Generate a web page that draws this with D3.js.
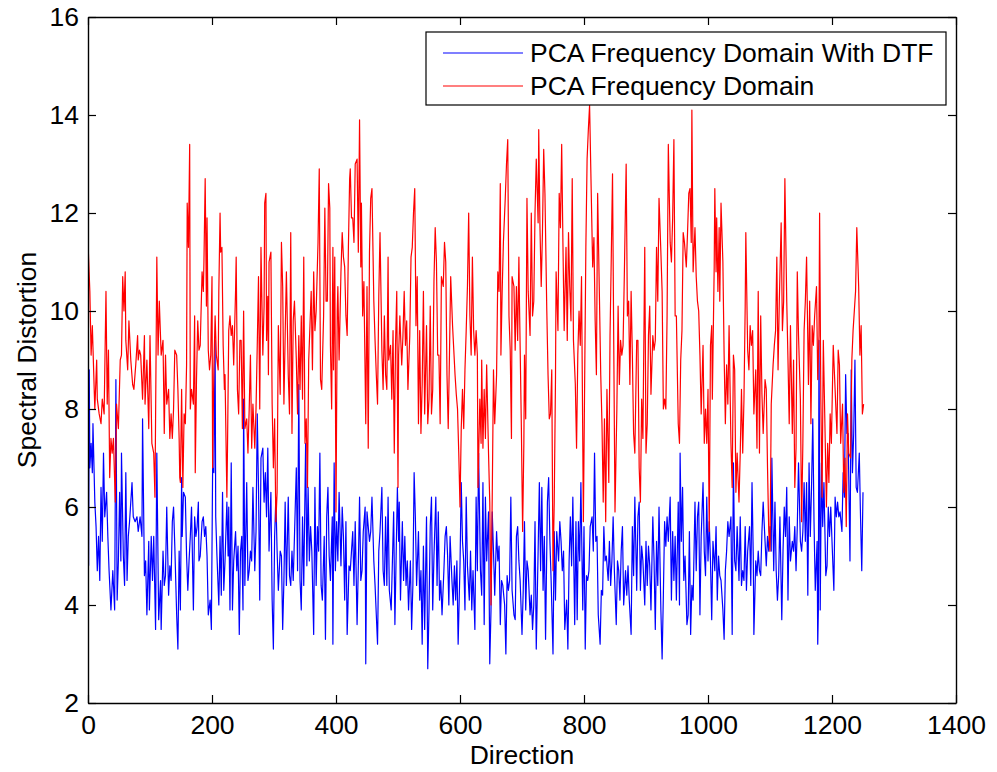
<!DOCTYPE html>
<html>
<head>
<meta charset="utf-8">
<script src="https://cdn.jsdelivr.net/npm/d3@7"></script>
<style>
  html, body { margin: 0; padding: 0; background: #fff; }
  svg { display: block; font-family: "Liberation Sans", Arial, Helvetica, sans-serif; }
</style>
</head>
<body>
<div id="chart"></div>
<script>
// values: [direction, spectral distortion]
const dtfPoints = [
  [1,4.8],[2,8.8],[3,6.8],[5,7.3],[7,6.7],[8,7.7],[11,6.1],[13,5.6],[15,4.7],[17,5.4],[19,4.5],[21,6.4],[23,5.3],[25,7.1],[27,5.8],[30,6.3],[32,5.4],[34,4.7],[37,3.9],[40,4.7],[43,3.9],[45,8.6],[47,4.1],[49,4.9],[51,6.3],[53,4.9],[54,7.1],[57,5.0],[59,4.4],[61,6.7],[63,4.5],[65,5.4],[67,5.7],[71,6.5],[73,5.8],[76,5.7],[79,5.8],[81,5.5],[84,5.8],[87,5.4],[88,7.8],[91,4.6],[93,4.9],[95,3.8],[98,5.3],[99,3.9],[102,5.4],[104,4.5],[106,5.4],[109,3.5],[111,7.1],[114,3.7],[117,4.5],[118,3.5],[121,5.1],
  [123,4.4],[125,4.6],[127,6.0],[130,4.2],[132,4.8],[134,4.5],[136,5.7],[138,6.0],[140,5.2],[143,3.8],[145,3.1],[147,5.1],[149,3.9],[151,6.6],[152,5.4],[154,6.3],[157,6.2],[159,5.0],[161,4.3],[163,4.9],[165,5.4],[167,6.0],[170,3.9],[172,5.8],[174,5.4],[176,5.6],[178,6.1],[179,4.9],[181,5.0],[184,5.7],[186,5.8],[188,5.4],[190,5.6],[192,5.0],[194,3.8],[197,4.1],[199,3.5],[201,6.8],[203,6.7],[205,9.4],[206,5.8],[208,5.0],[211,4.0],[213,5.4],[215,4.2],[217,6.3],[219,4.3],[221,4.9],[224,6.1],[226,5.0],[227,6.0],[229,3.9],[231,6.9],[233,3.9],[235,4.9],[238,5.5],[240,4.7],[242,5.2],[244,3.4],[246,5.1],
  [248,5.4],[250,3.9],[251,8.2],[253,4.4],[256,6.5],[258,4.5],[260,4.7],[262,5.1],[264,4.9],[266,6.4],[269,4.7],[271,5.5],[273,7.9],[275,6.4],[277,4.1],[279,7.0],[282,7.2],[284,6.1],[286,6.7],[288,5.8],[290,7.2],[292,5.1],[295,6.3],[297,4.1],[299,3.1],[301,5.4],[303,6.2],[305,5.1],[307,4.3],[310,5.1],[312,5.0],[314,3.5],[316,4.5],[318,6.1],[320,4.4],[323,6.2],[325,4.6],[327,4.4],[329,5.1],[331,4.5],[333,5.4],[336,6.8],[338,4.7],[340,8.5],[342,4.5],[344,3.9],[346,5.8],[348,4.4],[351,7.3],[353,4.8],[355,6.4],[357,4.9],[359,5.6],[361,5.1],[364,3.4],[366,6.4],[368,4.4],[370,5.6],
  [372,5.1],[374,7.1],[376,4.4],[378,4.1],[381,5.4],[383,3.3],[385,5.8],[387,6.4],[389,5.0],[391,4.5],[394,5.8],[395,3.2],[397,6.9],[399,4.7],[401,5.7],[403,4.9],[405,6.3],[408,4.8],[410,6.0],[412,5.4],[414,4.1],[416,5.7],[418,3.4],[421,4.8],[423,4.7],[425,5.1],[427,5.5],[429,4.4],[431,5.7],[434,3.6],[436,4.8],[438,6.2],[440,4.5],[442,4.7],[444,5.5],[447,6.0],[448,2.8],[450,5.9],[452,5.6],[454,5.3],[456,5.5],[458,6.2],[461,4.9],[463,4.4],[465,3.8],[467,3.2],[469,5.1],[471,5.5],[474,6.4],[476,4.7],[478,4.4],[480,5.8],[482,4.4],[484,6.2],[486,4.3],[489,3.9],[491,4.9],[493,5.9],[495,3.6],[497,5.0],
  [499,6.4],[501,5.3],[502,6.1],[504,4.1],[507,5.7],[509,4.5],[511,5.4],[513,4.4],[515,4.9],[517,3.9],[520,4.9],[522,3.5],[524,4.4],[526,6.7],[528,5.8],[530,4.4],[533,5.5],[535,4.1],[537,4.7],[539,3.2],[541,5.2],[543,3.5],[546,5.8],[548,2.7],[550,3.9],[552,5.6],[554,6.2],[556,3.9],[558,5.0],[561,6.2],[563,4.4],[565,5.9],[567,4.1],[569,4.5],[571,3.8],[574,4.7],[576,5.4],[578,5.6],[580,5.0],[582,4.0],[584,5.4],[587,4.5],[589,4.0],[591,4.8],[593,4.1],[595,4.9],[597,3.2],[600,4.8],[602,6.5],[604,5.3],[606,4.9],[608,3.9],[610,6.2],[612,4.8],[615,4.1],[617,5.1],[619,3.9],[621,4.7],
  [624,3.5],[626,6.2],[628,4.7],[630,7.1],[633,4.7],[635,4.2],[637,6.5],[639,3.6],[641,6.2],[643,4.9],[646,5.9],[648,2.8],[650,3.9],[652,5.9],[654,5.1],[656,4.2],[659,5.5],[661,4.9],[663,5.2],[665,3.6],[667,4.5],[669,4.4],[672,4.0],[674,3.0],[676,4.6],[678,4.3],[680,4.5],[682,6.2],[684,4.3],[687,3.8],[689,3.7],[691,5.4],[693,5.6],[695,4.9],[697,4.5],[700,3.4],[702,4.3],[704,5.7],[706,3.9],[708,4.9],[710,4.7],[713,3.8],[715,4.2],[717,3.5],[719,4.0],[721,5.7],[723,3.1],[726,5.1],[728,6.5],[730,4.7],[732,6.4],[734,4.3],[736,5.4],[738,3.3],[741,6.1],[743,6.6],[745,5.3],[747,4.5],
  [750,3.0],[752,5.5],[754,4.1],[756,5.5],[759,4.9],[761,5.7],[763,5.3],[765,4.7],[767,5.1],[769,3.5],[772,4.1],[774,3.1],[776,4.9],[778,5.8],[780,4.8],[782,6.2],[785,3.6],[787,5.7],[789,3.7],[791,5.7],[793,4.9],[795,6.5],[798,3.9],[800,5.6],[802,3.1],[804,4.6],[806,4.5],[808,4.7],[810,5.6],[813,5.8],[815,5.1],[817,7.1],[819,5.3],[821,5.4],[823,3.8],[826,3.2],[828,4.3],[830,4.2],[832,5.6],[834,4.9],[836,5.0],[839,4.5],[841,5.3],[843,4.4],[845,4.9],[847,5.8],[849,4.7],[852,3.6],[854,4.9],[856,4.7],[858,4.1],[860,5.1],[862,5.6],[864,4.0],[867,4.7],[869,4.2],[871,4.8],[873,4.1],
  [876,3.4],[878,5.6],[880,4.6],[882,6.2],[885,4.3],[887,5.8],[889,6.1],[891,4.3],[893,5.2],[895,4.9],[898,4.0],[900,5.3],[902,4.4],[904,5.2],[906,4.8],[908,3.9],[911,5.8],[913,4.9],[915,3.5],[917,5.3],[919,4.4],[921,6.0],[924,3.9],[926,2.9],[928,4.2],[930,5.7],[932,5.2],[934,5.8],[936,5.3],[939,6.2],[941,4.1],[943,5.5],[945,4.5],[947,5.4],[949,4.1],[952,6.1],[954,4.0],[955,7.1],[957,5.3],[959,6.4],[961,4.5],[963,5.0],[966,3.6],[968,3.8],[970,5.5],[972,3.4],[974,4.4],[976,4.1],[979,6.1],[981,4.7],[983,5.8],[985,6.1],[987,3.8],[989,5.4],[992,6.5],[994,5.1],[996,4.6],[998,6.2],[1000,4.9],
  [1002,5.7],[1004,4.9],[1006,3.7],[1008,5.3],[1011,4.7],[1013,5.6],[1015,4.1],[1017,5.0],[1019,4.6],[1021,4.5],[1024,3.9],[1026,3.3],[1028,4.7],[1030,5.1],[1032,5.7],[1034,5.4],[1037,5.8],[1039,3.4],[1041,6.9],[1043,4.9],[1045,4.7],[1047,5.6],[1050,4.5],[1052,5.8],[1054,4.4],[1056,4.7],[1058,4.5],[1060,5.6],[1062,4.3],[1064,5.1],[1067,5.6],[1069,4.4],[1071,6.5],[1073,5.0],[1074,3.4],[1077,4.9],[1079,4.6],[1081,5.1],[1083,4.7],[1085,4.6],[1087,5.5],[1089,6.1],[1092,5.3],[1094,4.8],[1096,5.4],[1098,5.1],[1100,5.6],[1102,5.1],[1103,7.0],[1106,4.7],[1108,6.1],[1110,4.7],[1112,4.1],[1114,4.6],[1116,5.8],[1119,3.7],[1121,5.1],[1123,6.0],[1125,5.4],
  [1127,6.4],[1129,4.1],[1131,5.8],[1133,4.9],[1136,5.3],[1138,5.1],[1140,5.6],[1142,4.7],[1144,5.6],[1146,6.9],[1149,5.3],[1151,5.1],[1153,5.5],[1155,6.5],[1157,5.3],[1159,6.5],[1161,4.2],[1163,6.9],[1165,5.4],[1167,6.4],[1169,7.8],[1171,5.7],[1173,4.3],[1176,5.3],[1177,3.2],[1178,3.9],[1179,9.4],[1181,3.9],[1183,6.9],[1185,5.6],[1187,6.5],[1190,4.6],[1192,4.8],[1194,6.0],[1196,5.4],[1198,6.0],[1200,5.3],[1203,4.3],[1205,6.2],[1207,5.8],[1209,6.1],[1211,5.8],[1213,5.9],[1216,5.5],[1218,6.7],[1220,6.2],[1222,8.7],[1224,7.5],[1226,7.5],[1229,4.9],[1231,8.8],[1233,6.7],[1235,7.5],[1237,9.0],[1239,6.4],[1241,6.3],[1244,7.1],[1246,5.8],[1248,4.7],[1250,6.3]
];

const pcaPoints = [
  [0,11.4],[3,10.4],[5,9.1],[7,9.7],[10,8.4],[11,8.0],[14,9.0],[15,8.2],[18,7.9],[21,7.7],[23,8.2],[26,7.9],[29,10.4],[31,8.1],[33,9.2],[35,6.6],[37,7.4],[39,7.1],[41,7.4],[44,6.1],[46,8.1],[49,7.6],[52,9.0],[54,9.1],[56,10.7],[58,10.0],[60,10.8],[61,9.4],[64,8.8],[66,9.8],[69,9.0],[72,8.5],[74,8.4],[77,8.9],[80,9.5],[81,9.0],[83,9.2],[85,9.1],[88,8.2],[91,9.5],[92,8.1],[95,9.0],[98,7.6],[100,9.5],[103,7.3],[106,7.1],[108,6.2],[111,11.1],[113,9.1],[115,10.2],[118,9.1],[121,9.4],
  [123,7.5],[125,9.1],[127,8.1],[130,8.4],[132,7.4],[134,7.9],[136,7.4],[138,8.0],[140,9.2],[143,9.1],[145,8.4],[147,7.4],[148,6.6],[149,6.5],[151,8.4],[153,6.4],[155,7.9],[157,7.7],[159,8.9],[160,12.2],[162,11.3],[164,13.4],[165,8.0],[167,8.4],[170,8.1],[172,9.9],[173,6.7],[175,8.6],[177,9.8],[179,9.2],[181,9.3],[184,10.8],[186,10.4],[187,11.0],[189,12.7],[191,10.1],[192,11.9],[194,9.2],[196,8.8],[198,9.1],[200,10.7],[201,6.8],[203,8.8],[205,9.9],[207,9.1],[210,8.8],[211,10.4],[213,12.0],[214,11.2],[216,11.3],[218,9.3],[220,8.4],[221,8.7],[224,6.2],[225,7.2],[227,9.6],[229,9.9],[231,9.5],[233,9.7],[235,8.9],[238,10.4],[239,11.1],[241,8.4],[243,7.9],[245,9.4],
  [247,9.4],[249,7.6],[251,10.0],[253,7.6],[256,7.8],[258,7.1],[260,8.0],[262,9.1],[264,7.2],[266,8.1],[269,7.2],[271,8.0],[273,9.3],[275,10.7],[277,8.0],[279,11.3],[282,9.1],[284,10.1],[285,12.2],[287,12.4],[288,9.4],[290,10.3],[291,8.7],[292,11.0],[295,11.2],[297,8.1],[299,6.8],[301,7.8],[303,5.7],[305,6.3],[307,9.7],[310,8.3],[312,11.4],[314,10.5],[316,8.1],[318,9.5],[320,10.8],[323,8.7],[325,7.9],[327,11.6],[329,7.5],[331,9.8],[333,10.2],[336,9.0],[338,7.9],[340,9.5],[342,8.4],[344,9.9],[346,8.2],[348,11.1],[350,7.3],[352,7.8],[354,6.4],[356,9.0],[358,9.7],[360,10.4],[362,8.8],[364,10.8],[366,9.6],[368,10.0],[371,11.4],
  [373,12.9],[375,8.6],[377,8.4],[380,9.9],[382,12.1],[384,10.2],[386,10.2],[388,12.6],[390,12.1],[391,9.3],[393,8.0],[395,11.3],[396,8.8],[398,11.1],[400,5.9],[402,10.0],[403,10.5],[405,9.0],[408,10.8],[410,11.6],[412,11.1],[414,10.9],[416,9.9],[418,9.5],[420,11.3],[422,12.7],[423,12.9],[425,11.9],[427,11.9],[429,11.4],[431,13.0],[434,13.1],[436,11.2],[438,13.9],[440,10.9],[441,12.2],[443,9.9],[445,10.6],[448,7.7],[450,10.5],[452,7.2],[454,11.2],[456,12.3],[458,12.5],[461,10.2],[463,9.4],[465,8.7],[467,8.1],[469,10.3],[471,11.6],[474,9.2],[476,8.4],[478,9.9],[480,8.7],[482,8.4],[484,11.1],[485,9.0],[488,9.3],[490,8.2],[492,9.6],[494,7.1],[496,9.3],
  [498,10.4],[500,6.4],[501,9.1],[503,9.9],[506,8.9],[508,9.5],[510,10.4],[512,9.3],[514,9.8],[516,8.4],[519,9.5],[521,11.1],[523,11.3],[525,12.0],[527,12.5],[529,9.7],[531,10.7],[533,7.7],[535,9.6],[537,7.5],[539,8.5],[541,10.4],[543,7.9],[546,9.7],[548,7.7],[550,8.2],[552,10.1],[554,7.9],[556,8.4],[558,10.6],[560,11.7],[562,11.0],[564,9.1],[566,9.1],[568,7.7],[570,10.7],[573,10.5],[575,11.4],[577,11.0],[579,8.7],[581,7.6],[583,9.1],[585,10.7],[588,9.7],[590,9.2],[592,8.7],[594,8.3],[596,8.0],[598,7.1],[600,6.0],[602,7.6],[604,8.4],[606,7.6],[608,8.8],[610,9.6],[612,10.5],[614,12.0],[616,9.9],[618,9.1],[620,11.1],[622,9.6],
  [624,9.1],[626,9.6],[628,9.1],[629,6.4],[632,8.2],[634,7.3],[635,9.0],[637,7.2],[639,8.4],[641,7.4],[643,8.9],[646,7.1],[648,6.1],[650,4.0],[652,6.2],[654,8.8],[656,7.7],[659,8.7],[661,10.8],[663,10.4],[665,12.6],[666,9.1],[668,10.4],[670,11.4],[673,12.3],[675,13.0],[677,13.5],[679,9.9],[681,9.2],[683,7.4],[684,10.7],[687,10.5],[689,9.2],[691,10.5],[693,9.4],[695,11.1],[696,10.1],[699,7.6],[701,5.5],[703,7.3],[704,9.1],[706,7.8],[708,12.3],[710,10.4],[713,9.5],[715,12.0],[717,9.9],[719,10.2],[721,12.0],[723,13.1],[726,11.8],[727,13.7],[729,11.7],[731,10.5],[733,11.6],[735,13.3],[737,12.4],[740,10.0],[742,8.7],[744,7.8],[746,7.9],[748,8.8],
  [750,4.7],[752,6.1],[754,8.6],[755,10.8],[758,9.6],[760,12.4],[762,11.7],[764,13.4],[766,11.4],[768,9.6],[771,11.3],[773,9.4],[775,11.6],[777,10.5],[779,9.8],[781,12.7],[783,9.4],[786,8.5],[788,7.2],[790,9.1],[792,10.0],[794,9.3],[796,10.7],[799,5.7],[801,8.5],[803,11.3],[805,13.1],[807,13.7],[809,14.2],[812,12.2],[814,10.9],[816,11.5],[818,9.8],[820,8.7],[822,12.4],[825,10.2],[827,8.7],[829,7.7],[831,6.1],[833,7.8],[835,5.7],[837,8.4],[840,6.5],[842,9.5],[844,11.1],[846,12.8],[848,9.3],[850,5.9],[853,8.0],[855,10.1],[857,8.5],[859,9.4],[861,9.1],[863,9.3],[865,10.7],[868,13.0],[870,9.9],[872,10.2],[874,8.5],
  [876,10.4],[878,9.1],[880,7.5],[882,7.1],[885,9.4],[887,9.4],[889,6.8],[891,6.1],[893,8.2],[895,7.4],[898,11.3],[900,7.1],[902,7.7],[904,9.5],[906,10.1],[908,8.3],[911,9.5],[913,9.2],[915,9.4],[917,11.3],[919,10.2],[921,12.3],[924,11.2],[926,10.4],[928,8.0],[930,8.2],[932,8.0],[934,9.9],[936,13.4],[939,11.4],[941,11.0],[943,11.9],[945,13.5],[947,9.9],[949,9.9],[952,7.7],[954,7.3],[956,9.0],[958,9.6],[960,11.6],[962,11.4],[965,10.9],[967,11.6],[969,12.4],[971,12.5],[973,11.4],[974,14.1],[976,10.8],[979,11.7],[981,10.7],[983,10.2],[985,10.0],[987,9.1],[989,7.9],[992,9.3],[994,7.3],[996,8.0],[998,7.3],[1000,8.4],
  [1002,5.5],[1004,9.3],[1006,9.7],[1007,8.2],[1010,10.9],[1011,12.5],[1013,10.8],[1014,11.9],[1016,10.4],[1018,11.7],[1019,10.2],[1021,12.2],[1024,11.0],[1026,9.1],[1028,7.7],[1030,8.9],[1032,8.1],[1034,9.7],[1037,7.3],[1039,6.4],[1041,9.1],[1043,8.8],[1045,6.3],[1047,7.1],[1050,6.1],[1052,7.1],[1054,8.4],[1056,7.1],[1058,8.2],[1060,10.1],[1061,11.6],[1064,9.2],[1066,8.8],[1068,9.7],[1070,9.3],[1072,9.6],[1074,7.9],[1077,8.8],[1079,7.2],[1081,10.4],[1083,7.1],[1085,9.9],[1087,8.3],[1089,7.5],[1092,8.6],[1094,8.4],[1096,6.8],[1098,5.5],[1100,5.1],[1102,8.1],[1105,8.9],[1107,9.3],[1109,9.6],[1111,11.1],[1113,8.8],[1115,10.2],[1118,11.8],[1120,9.6],[1122,10.2],[1124,12.7],
  [1127,10.2],[1129,9.0],[1131,7.7],[1133,9.7],[1136,7.5],[1138,9.0],[1140,6.4],[1142,7.2],[1144,10.8],[1146,9.5],[1149,8.2],[1151,5.7],[1153,7.3],[1155,9.6],[1157,10.2],[1159,11.1],[1162,8.5],[1164,10.2],[1166,7.7],[1168,9.7],[1170,9.3],[1172,9.9],[1175,10.5],[1177,8.6],[1179,9.5],[1180,12.0],[1182,8.2],[1184,6.2],[1186,9.4],[1189,7.4],[1191,6.0],[1193,7.3],[1195,6.5],[1197,7.9],[1199,7.3],[1202,9.3],[1204,8.7],[1206,8.1],[1208,7.5],[1210,9.2],[1212,8.9],[1214,7.3],[1217,8.1],[1219,6.3],[1221,7.0],[1223,5.6],[1225,7.9],[1227,7.1],[1230,7.0],[1232,9.0],[1234,9.6],[1236,10.0],[1238,10.4],[1240,11.7],[1243,10.5],[1245,9.1],[1247,9.7],[1249,7.9],[1251,8.1]
];

const seriesNames = ["PCA Frequency Domain With DTF", "PCA Frequency Domain"];
const seriesColors = ["#0000ff", "#ff0000"];
const xTicks = [0, 200, 400, 600, 800, 1000, 1200, 1400];
const yTicks = [2, 4, 6, 8, 10, 12, 14, 16];

// figure size and axes box (in page pixels)
const W = 997, H = 772;
const margin = {top: 17, right: 41, bottom: 69, left: 88},
    width = W - margin.left - margin.right,
    height = H - margin.top - margin.bottom;

const svg = d3.select("#chart")
    .append("svg")
    .attr("width", W)
    .attr("height", H);

svg.append("rect").attr("width", W).attr("height", H).attr("fill", "#fff");

const g = svg.append("g")
    .attr("transform", `translate(${margin.left},${margin.top})`);

const x = d3.scaleLinear().domain([0, 1400]).range([0, width]);
const y = d3.scaleLinear().domain([2, 16]).range([height, 0]);

// clip lines to the axes box
svg.append("defs").append("clipPath").attr("id", "box")
    .append("rect").attr("width", width).attr("height", height);

const line = d3.line()
    .x(d => x(d[0]))
    .y(d => y(d[1]));

const plot = g.append("g").attr("clip-path", "url(#box)");

// blue drawn first, red on top
[dtfPoints, pcaPoints].forEach((pts, i) => {
  plot.append("path")
      .datum(pts)
      .attr("fill", "none")
      .attr("stroke", seriesColors[i])
      .attr("stroke-width", 1.2)
      .attr("stroke-linejoin", "round")
      .attr("d", line);
});

// axes, matlab style: ticks pointing inward on all four sides
const fontSize = 26.5;
const tick = 8;
const fmt = d3.format("d");

const xAxis = g.append("g")
    .attr("transform", `translate(0,${height})`)
    .call(d3.axisBottom(x).tickValues(xTicks).tickFormat(fmt).tickSizeInner(-tick).tickSizeOuter(0).tickPadding(12));

const xAxisTop = g.append("g")
    .call(d3.axisTop(x).tickValues(xTicks).tickSizeInner(-tick).tickSizeOuter(0).tickFormat(""));

const yAxis = g.append("g")
    .call(d3.axisLeft(y).tickValues(yTicks).tickFormat(fmt).tickSizeInner(-tick).tickSizeOuter(0).tickPadding(9));

const yAxisRight = g.append("g")
    .attr("transform", `translate(${width},0)`)
    .call(d3.axisRight(y).tickValues(yTicks).tickSizeInner(-tick).tickSizeOuter(0).tickFormat(""));

[xAxis, xAxisTop, yAxis, yAxisRight].forEach(a => {
  a.select(".domain").attr("stroke", "#000").attr("stroke-width", 1.4);
  a.selectAll(".tick line").attr("stroke", "#000").attr("stroke-width", 1.2);
  a.selectAll("text")
      .attr("fill", "#000")
      .style("font-size", fontSize + "px")
      .style("font-family", "'Liberation Sans', Arial, sans-serif");
});

// axis labels
svg.append("text")
    .attr("x", margin.left + width / 2)
    .attr("y", 764)
    .attr("text-anchor", "middle")
    .style("font-size", fontSize + "px")
    .text("Direction");

svg.append("text")
    .attr("transform", `translate(36,${margin.top + height / 2}) rotate(-90)`)
    .attr("text-anchor", "middle")
    .style("font-size", fontSize + "px")
    .text("Spectral Distortion");

// legend
const legend = svg.append("g").attr("transform", "translate(426,32)");
legend.append("rect")
    .attr("width", 520)
    .attr("height", 73)
    .attr("fill", "#fff")
    .attr("stroke", "#000")
    .attr("stroke-width", 1.2);

const item = legend.selectAll(".item")
    .data(seriesNames)
    .join("g")
    .attr("class", "item")
    .attr("transform", (d, i) => `translate(0,${21 + i * 33})`);

item.append("line")
    .attr("x1", 17).attr("x2", 97)
    .attr("stroke", (d, i) => seriesColors[i])
    .attr("stroke-width", 1.2);

item.append("text")
    .attr("x", 104)
    .attr("dy", "0.35em")
    .style("font-size", fontSize + "px")
    .text(d => d);
</script>
</body>
</html>
